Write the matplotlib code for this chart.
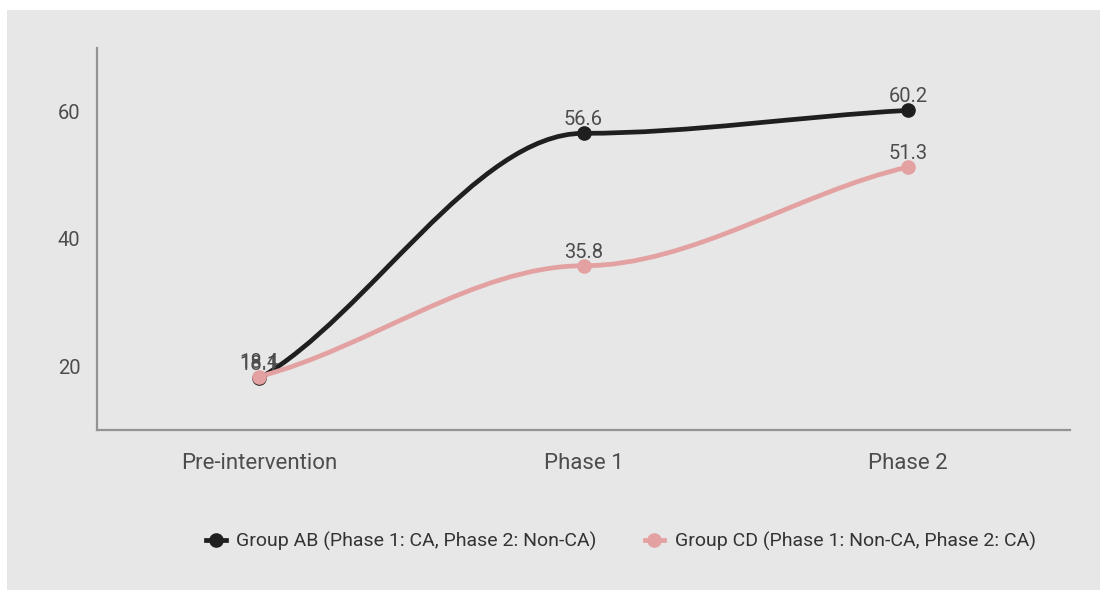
import numpy as np
import matplotlib
matplotlib.use("Agg")
import matplotlib.pyplot as plt
from matplotlib.patches import Rectangle, PathPatch
from matplotlib.path import Path
from matplotlib.lines import Line2D

# Data
stages = ["Pre-intervention", "Phase 1", "Phase 2"]
group_ab = [18.1, 56.6, 60.2]
group_cd = [18.4, 35.8, 51.3]
series_names = [
    "Group AB (Phase 1: CA, Phase 2: Non-CA)",
    "Group CD (Phase 1: Non-CA, Phase 2: CA)",
]
y_ticks = [20, 40, 60]

colors = ["#1f1f1f", "#e3a1a1"]
font_main = ["Roboto", "DejaVu Sans"]
font_legend = ["Liberation Sans Narrow", "Roboto", "DejaVu Sans"]
text_color = "#4d4d4d"


def smooth_path(pts, end_damping=0.75):
    """Cubic Hermite path in display space: level tangents at interior
    points, damped secant tangents at both ends."""
    pts = np.asarray(pts, float)
    xs, ys = pts[:, 0], pts[:, 1]
    secants = np.diff(ys) / np.diff(xs)
    m = np.zeros(len(pts))
    m[0] = end_damping * secants[0]
    m[-1] = end_damping * secants[-1]
    verts = [tuple(pts[0])]
    codes = [Path.MOVETO]
    for i in range(len(pts) - 1):
        dx = (xs[i + 1] - xs[i]) / 3
        verts += [(xs[i] + dx, ys[i] + dx * m[i]),
                  (xs[i + 1] - dx, ys[i + 1] - dx * m[i + 1]),
                  (xs[i + 1], ys[i + 1])]
        codes += [Path.CURVE4] * 3
    return np.array(verts), codes


fig = plt.figure(figsize=(11.04, 5.92), dpi=100, facecolor="white")
fig.patches.append(Rectangle((7 / 1104, 2 / 592), 1093 / 1104, 580 / 592,
                             transform=fig.transFigure, facecolor="#e7e7e7",
                             edgecolor="none", zorder=-10))

ax = fig.add_axes([97 / 1104, 1 - 430 / 592, (1070 - 97) / 1104, (430 - 48) / 592])
ax.set_facecolor("none")
ax.set_xlim(-0.5, 2.5)
ax.set_ylim(10, 70)

x = np.arange(len(stages))
for vals, color in zip([group_ab, group_cd], colors):
    disp = ax.transData.transform(np.column_stack([x, vals]))
    verts, codes = smooth_path(disp)
    data_verts = ax.transData.inverted().transform(verts)
    ax.add_patch(PathPatch(Path(data_verts, codes), facecolor="none", edgecolor=color,
                           lw=3.4, capstyle="round", joinstyle="round", zorder=3))
    ax.plot(x, vals, "o", color=color, ms=9.5, zorder=4)
    for xi, v in zip(x, vals):
        ax.annotate(f"{v:.1f}", (xi, v), xytext=(0, 3), textcoords="offset points",
                    ha="center", va="bottom", fontsize=14.5, color=text_color,
                    family=font_main, zorder=5)

ax.set_xticks(x)
ax.set_xticklabels(stages, family=font_main, fontsize=16, color=text_color)
ax.set_yticks(y_ticks)
ax.set_yticklabels([str(v) for v in y_ticks], family=font_main, fontsize=14.5,
                   color=text_color)
ax.tick_params(axis="both", length=0)
ax.tick_params(axis="x", pad=16.5)
ax.tick_params(axis="y", pad=12)
for side in ["top", "right"]:
    ax.spines[side].set_visible(False)
for side in ["left", "bottom"]:
    ax.spines[side].set_color("#939393")
    ax.spines[side].set_linewidth(1.6)

handles = [Line2D([0], [0], color=c, lw=3.4, marker="o", ms=9.5) for c in colors]
fig.legend(handles, series_names, loc="center", bbox_to_anchor=(621 / 1104, 1 - 541 / 592),
           ncol=2, frameon=False, handlelength=1.0, handletextpad=0.55,
           columnspacing=2.45, prop={"family": font_legend, "size": 14},
           labelcolor="#333333")

fig.savefig("out.png", dpi=100, facecolor="white")
